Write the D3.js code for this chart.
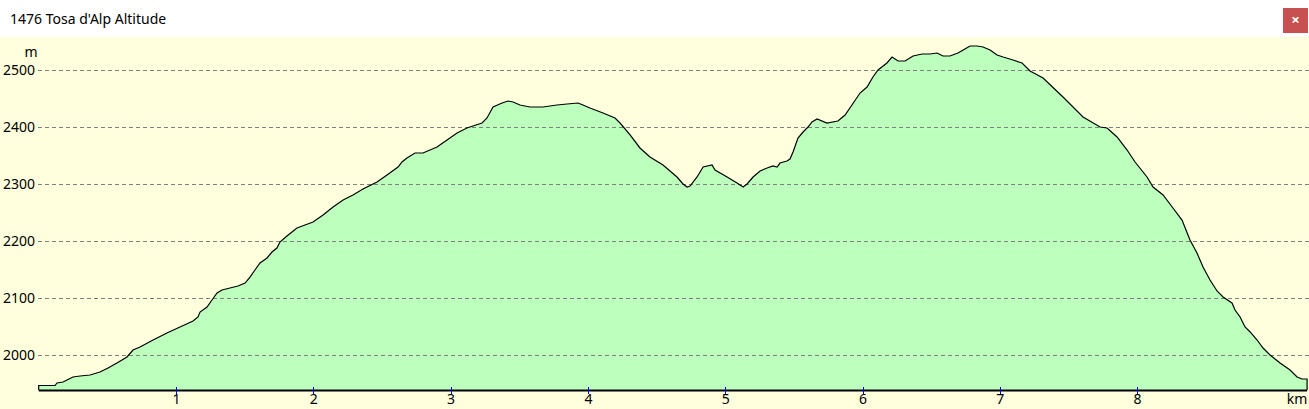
<!DOCTYPE html>
<html><head><meta charset="utf-8">
<script src="https://cdn.jsdelivr.net/npm/d3@7"></script>
<style>html,body{margin:0;padding:0;background:#fff;overflow:hidden}</style>
</head><body>
<svg id="c" width="1309" height="409"></svg>
<script>
const title = "1476 Tosa d'Alp Altitude";
const yTicks = [2000, 2100, 2200, 2300, 2400, 2500];
const xTicks = [1, 2, 3, 4, 5, 6, 7, 8];
const distKm = [0,0.119,0.133,0.177,0.250,0.301,0.374,0.446,0.505,0.570,0.643,0.687,0.738,0.833,0.934,1.029,1.124,1.160,1.175,1.226,1.262,1.299,1.335,1.393,1.452,1.503,1.539,1.575,1.612,1.663,1.699,1.735,1.757,1.808,1.881,1.998,2.071,2.144,2.217,2.289,2.362,2.464,2.537,2.617,2.646,2.682,2.741,2.799,2.901,2.974,3.047,3.119,3.229,3.265,3.309,3.375,3.418,3.455,3.505,3.578,3.673,3.775,3.848,3.928,3.964,4.015,4.110,4.197,4.234,4.307,4.379,4.452,4.547,4.649,4.693,4.722,4.744,4.795,4.839,4.904,4.926,5.014,5.086,5.130,5.159,5.203,5.254,5.305,5.348,5.378,5.399,5.450,5.472,5.494,5.530,5.567,5.603,5.632,5.669,5.741,5.821,5.873,5.923,5.982,6.033,6.076,6.113,6.178,6.215,6.259,6.310,6.368,6.434,6.492,6.543,6.586,6.637,6.695,6.746,6.783,6.834,6.878,6.929,6.980,7.024,7.096,7.162,7.220,7.315,7.460,7.606,7.730,7.781,7.854,7.927,7.985,8.072,8.116,8.189,8.261,8.327,8.385,8.436,8.480,8.531,8.582,8.626,8.691,8.713,8.750,8.786,8.823,8.874,8.917,8.968,9.041,9.114,9.165,9.201,9.238];
const altM = [1946.5,1946.5,1950.9,1952.6,1961.4,1963.2,1964.9,1970.2,1977.2,1986.0,1996.5,2008.8,2014.0,2026.3,2038.6,2049.1,2059.6,2066.7,2075.4,2084.2,2096.5,2108.8,2114.0,2117.5,2121.1,2126.3,2136.8,2149.1,2161.4,2170.2,2180.7,2187.7,2198.2,2208.8,2222.8,2233.3,2245.6,2259.6,2271.9,2280.7,2291.2,2303.5,2315.8,2329.8,2338.6,2345.6,2354.4,2354.4,2364.9,2377.2,2389.5,2398.2,2407.0,2415.8,2435.1,2442.1,2445.6,2443.9,2438.6,2435.1,2435.1,2438.6,2440.4,2442.1,2438.6,2433.3,2424.6,2415.8,2407.0,2386.0,2363.2,2347.4,2333.3,2312.3,2300.0,2294.7,2296.5,2312.3,2329.8,2333.3,2324.6,2312.3,2301.8,2294.7,2300.0,2312.3,2322.8,2328.1,2331.6,2329.8,2336.8,2340.4,2343.9,2356.1,2380.7,2391.2,2400.0,2408.8,2414.0,2407.0,2410.5,2421.1,2438.6,2459.6,2470.2,2487.7,2500.0,2512.3,2522.8,2515.8,2515.8,2524.6,2528.1,2528.1,2529.8,2524.6,2524.6,2529.8,2536.8,2542.1,2542.1,2540.4,2535.1,2526.3,2522.8,2517.5,2512.3,2498.2,2486.0,2452.6,2417.5,2400.0,2398.2,2382.5,2359.6,2338.6,2312.3,2294.7,2280.7,2257.9,2236.8,2201.8,2178.9,2154.4,2131.6,2112.3,2101.8,2091.2,2078.9,2066.7,2049.1,2040.4,2026.3,2012.3,2000.0,1986.0,1973.7,1961.4,1957.9,1957.9];

const svg = d3.select("#c");
const font = "'Segoe UI','Noto Sans','DejaVu Sans',sans-serif";
const x = d3.scaleLinear().domain([0, 9.238]).range([38.7, 1307.1]);
const y = d3.scaleLinear().domain([1938.6, 2557.9]).range([390, 37]);
const data = distKm.map((d, i) => ({ d, a: altM[i] }));

// title bar
svg.append("rect").attr("x",0).attr("y",0).attr("width",1309).attr("height",37).attr("fill","#ffffff");
svg.append("text").attr("x",10).attr("y",24).attr("font-family",font).attr("font-size",14).attr("fill","#000").text(title);
svg.append("rect").attr("x",1283).attr("y",8).attr("width",25).attr("height",25).attr("fill","#c75050");
svg.append("text").attr("x",1295.5).attr("y",25).attr("text-anchor","middle").attr("font-family",font).attr("font-size",15).attr("font-weight","bold").attr("fill","#fff").text("×");

// plot background
svg.append("rect").attr("x",0).attr("y",37).attr("width",1309).attr("height",372).attr("fill","#ffffdd");

// area
const area = d3.area().x(p => x(p.d)).y0(y(1938.6)).y1(p => y(p.a));
svg.append("path").datum(data).attr("d", area).attr("fill","#bdffbd");

// grid
svg.append("g").selectAll("line").data(yTicks).join("line")
  .attr("x1",38).attr("x2",1309)
  .attr("y1",v => Math.round(y(v))+0.5).attr("y2",v => Math.round(y(v))+0.5)
  .attr("stroke","#808080").attr("stroke-width",1).attr("stroke-dasharray","4,3");

// profile line (with end verticals)
const pts = [{d:0,a:1938.6}].concat(data, [{d:9.238,a:1938.6}]);
const line = d3.line().x(p => x(p.d)).y(p => y(p.a));
svg.append("path").datum(pts).attr("d", line).attr("fill","none").attr("stroke","#000").attr("stroke-width",1.2);

// bottom axis
const xAxis = d3.axisBottom(x).tickValues(xTicks).tickSize(0).tickPadding(0).tickFormat(d3.format("d"));
const gx = svg.append("g").attr("transform","translate(0,390)").call(xAxis);
gx.select(".domain").remove();
gx.selectAll("text").attr("dy",null).attr("y",14).attr("font-family",font).attr("font-size",14).attr("fill","#000");
svg.append("line").attr("x1",38.7).attr("x2",1307.1).attr("y1",390.5).attr("y2",390.5).attr("stroke","#000").attr("stroke-width",2);
svg.append("g").selectAll("line").data(xTicks).join("line")
  .attr("x1",v => Math.round(x(v))+0.5).attr("x2",v => Math.round(x(v))+0.5)
  .attr("y1",387).attr("y2",394).attr("stroke","#0000ff").attr("stroke-width",1);

// y labels
const yAxis = d3.axisLeft(y).tickValues(yTicks).tickSize(0).tickPadding(3).tickFormat(d3.format("d"));
const gy = svg.append("g").attr("transform","translate(38,0)").call(yAxis);
gy.select(".domain").remove();
gy.selectAll("text").attr("font-family",font).attr("font-size",14).attr("fill","#000");

svg.append("text").attr("x",31).attr("y",57).attr("text-anchor","middle").attr("font-family",font).attr("font-size",14).attr("fill","#000").text("m");
svg.append("text").attr("x",1297).attr("y",404).attr("text-anchor","middle").attr("font-family",font).attr("font-size",14).attr("fill","#000").text("km");
</script>
</body></html>
